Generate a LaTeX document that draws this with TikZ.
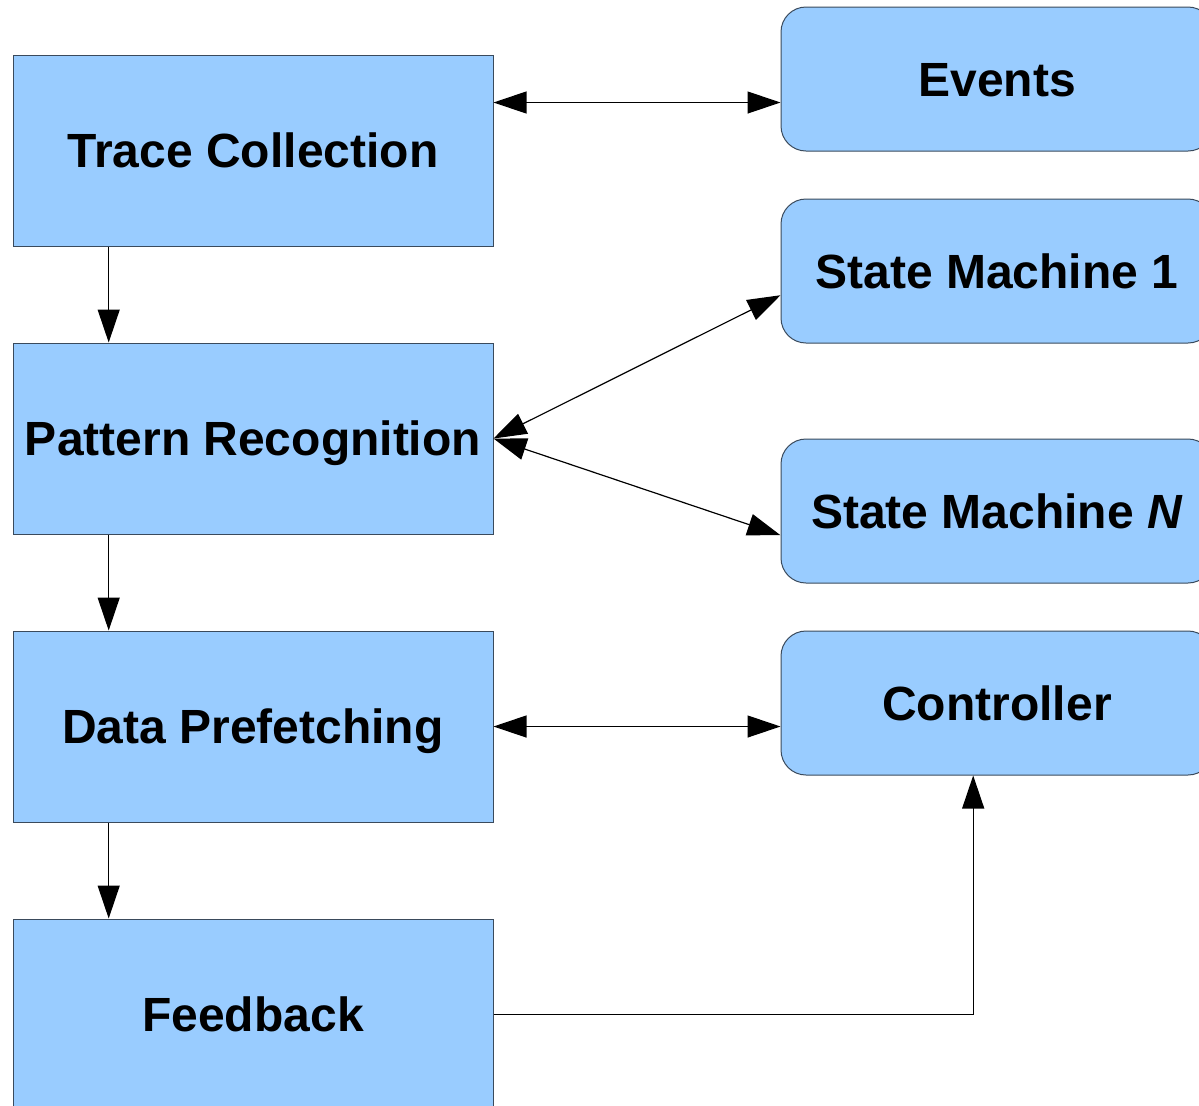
\documentclass[tikz,border=0pt]{standalone}
\usepackage{fontspec}
\setmainfont{Liberation Sans}
\usepackage{xcolor}
\usetikzlibrary{arrows.meta,calc}

\definecolor{boxblue}{HTML}{99CCFF}
\definecolor{boxline}{HTML}{3A4A5C}

\tikzset{
  stage/.style={draw=boxline, line width=0.5pt, fill=boxblue,
    minimum width=240pt, minimum height=95.5pt, inner sep=0pt,
    text height=17.2pt, text depth=0pt,
    font=\bfseries\fontsize{24}{28}\selectfont},
  unit/.style={stage, rounded corners=12.5pt, minimum width=216pt, minimum height=72pt},
  tip/.tip={Triangle[length=16.5pt,width=11pt]},
  link/.style={line width=0.6pt, -tip},
  dlink/.style={line width=0.6pt, tip-tip}
}

\begin{document}
\begin{tikzpicture}[x=0.5pt, y=-0.5pt]
        \clip (0,0) rectangle (1199,1105);

        % Pipeline stages
        \node[stage] (trace) at (253,150.5) {Trace Collection};
        \node[stage] (pattern) at (253,438.5) {Pattern Recognition};
        \node[stage] (prefetch) at (253,726.5) {Data Prefetching};
        \node[stage] (feedback) at (253,1014.5) {Feedback};

        % Side units
        \node[unit] (events) at (997,79) {Events};
        \node[unit] (sm1) at (997,271) {State Machine 1};
        \node[unit] (smn) at (997,511) {State Machine \textit{N}};
        \node[unit] (ctrl) at (997,703) {Controller};

        % Downward flow
        \draw[link] ($(trace.south west)!0.2!(trace.south east)$) -- ($(pattern.north west)!0.2!(pattern.north east)$);
        \draw[link] ($(pattern.south west)!0.2!(pattern.south east)$) -- ($(prefetch.north west)!0.2!(prefetch.north east)$);
        \draw[link] ($(prefetch.south west)!0.2!(prefetch.south east)$) -- ($(feedback.north west)!0.2!(feedback.north east)$);

        % Exchanges with side units
        \coordinate (tr) at ($(trace.north east)!0.25!(trace.south east)$);
        \draw[dlink] (tr) -- (tr -| events.west);
        \draw[dlink] (pattern.east) -- ($(sm1.north west)!0.667!(sm1.south west)$);
        \draw[dlink] (pattern.east) -- ($(smn.north west)!0.667!(smn.south west)$);
        \draw[dlink] (prefetch.east) -- (prefetch.east -| ctrl.west);

        % Feedback loop
        \coordinate (ctrlin) at ($(ctrl.south west)!0.445!(ctrl.south east)$);
        \draw[link] (feedback.east) -| (ctrlin);

\end{tikzpicture}
\end{document}
